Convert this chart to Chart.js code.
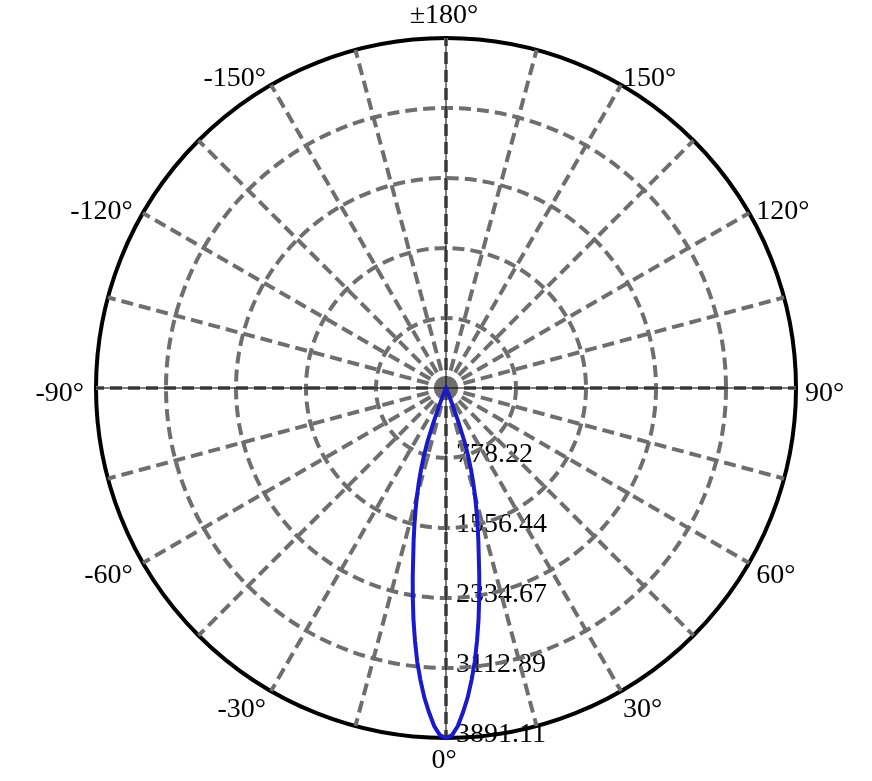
<!DOCTYPE html>
<html>
<head>
<meta charset="utf-8">
<script src="https://cdn.jsdelivr.net/npm/chart.js@4.4.1/dist/chart.umd.min.js"></script>
<style>
    html, body { margin: 0; padding: 0; background: #fff; }
    #wrap { width: 872px; height: 781px; }
</style>
</head>
<body>
<div id="wrap"><canvas id="polar"></canvas></div>
<script>
// luminous intensity (cd) against angle off the beam axis, beam is symmetric
const beamAngles = [0, 1, 2, 3, 4, 5, 6, 7, 8, 9, 10, 11, 12, 13, 14, 15, 16, 17, 18, 19, 20, 21, 22, 23, 24, 25];
const beamIntensity = [3891, 3860, 3760, 3610, 3450, 3260, 3060, 2830, 2600, 2360, 2130, 1910, 1730, 1560, 1400, 1250, 1100, 950, 800, 640, 420, 230, 110, 45, 15, 5];

const tickValues = [0, 778.22, 1556.44, 2334.67, 3112.89, 3891.11];
const tickLabels = ['', '778.22', '1556.44', '2334.67', '3112.89', '3891.11'];

const angleTicks = [180, 150, 120, 90, 60, 30, 0, -30, -60, -90, -120, -150];
const angleTickLabels = ['±180°', '150°', '120°', '90°', '60°', '30°', '0°', '-30°', '-60°', '-90°', '-120°', '-150°'];

const gridGray = '#6e6e6e';
const labelFont = '28px "Liberation Serif", "Times New Roman", serif';

// one spoke per degree, index i sits at angle -i (clockwise from the bottom)
const spokes = [];
for (let i = 0; i < 360; i++) spokes.push(i);

const values = spokes.map(i => {
    const off = Math.min(i, 360 - i);
    const k = beamAngles.indexOf(off);
    return k >= 0 ? beamIntensity[k] : 0;
});

const indexOfAngle = deg => (360 - deg) % 360;

// radial values written along the 0° spoke, under the grid
const ringLabels = {
    id: 'ringLabels',
    beforeDraw(chart) {
        const r = chart.scales.r;
        const c = chart.ctx;
        c.save();
        c.font = labelFont;
        c.fillStyle = '#000';
        c.textAlign = 'left';
        c.textBaseline = 'middle';
        tickValues.forEach((v, k) => {
            if (!tickLabels[k]) return;
            const p = r.getPointPositionForValue(0, v);
            c.fillText(tickLabels[k], p.x + 10, p.y - 3);
        });
        c.restore();
    }
};

// thin black cross and the angle labels round the rim
const axisCross = {
    id: 'axisCross',
    beforeDatasetsDraw(chart) {
        const r = chart.scales.r;
        const c = chart.ctx;
        c.save();
        c.strokeStyle = '#000';
        c.lineWidth = 1;
        [[0, 180], [90, 270]].forEach(([a, b]) => {
            const p1 = r.getPointPosition(a, r.drawingArea);
            const p2 = r.getPointPosition(b, r.drawingArea);
            c.beginPath();
            c.moveTo(p1.x, p1.y);
            c.lineTo(p2.x, p2.y);
            c.stroke();
        });

        c.font = labelFont;
        c.fillStyle = '#000';
        c.textBaseline = 'middle';
        angleTicks.forEach((deg, k) => {
            const p = r.getPointPosition(indexOfAngle(deg), r.drawingArea + 14);
            const dx = p.x - r.xCenter;
            const dy = p.y - r.yCenter;
            if (dx > 5) {
                c.textAlign = 'left';
                c.fillText(angleTickLabels[k], p.x - 5, p.y + 6);
            } else if (dx < -5) {
                c.textAlign = 'right';
                c.fillText(angleTickLabels[k], p.x + 2, p.y + 6);
            } else {
                c.textAlign = 'center';
                c.fillText(angleTickLabels[k], p.x - 2, p.y + (dy > 0 ? 9 : -8));
            }
        });
        c.restore();
    }
};

new Chart(document.getElementById('polar'), {
    type: 'radar',
    data: {
        labels: spokes,
        datasets: [{
            label: 'Intensity',
            data: values,
            borderColor: '#1a1acc',
            borderWidth: 4,
            pointRadius: 0,
            fill: false,
            tension: 0
        }]
    },
    options: {
        responsive: true,
        maintainAspectRatio: false,
        animation: false,
        layout: {
            padding: { left: 96, right: 76, top: 38, bottom: 43 }
        },
        plugins: {
            legend: { display: false },
            tooltip: { enabled: false }
        },
        scales: {
            r: {
                min: 0,
                max: 3891.11,
                startAngle: 180,
                afterBuildTicks: scale => {
                    scale.ticks = tickValues.map(v => ({ value: v }));
                },
                ticks: { display: false },
                pointLabels: { display: false },
                grid: {
                    circular: true,
                    color: ctx => ctx.index === tickValues.length - 1 ? '#000' : gridGray,
                    lineWidth: 4
                },
                border: {
                    dash: ctx => ctx.index === tickValues.length - 1 ? [] : [12, 6]
                },
                angleLines: {
                    color: gridGray,
                    lineWidth: ctx => ctx.index % 15 === 0 ? 4 : 0,
                    borderDash: [12, 6]
                }
            }
        }
    },
    plugins: [ringLabels, axisCross]
});
</script>
</body>
</html>
